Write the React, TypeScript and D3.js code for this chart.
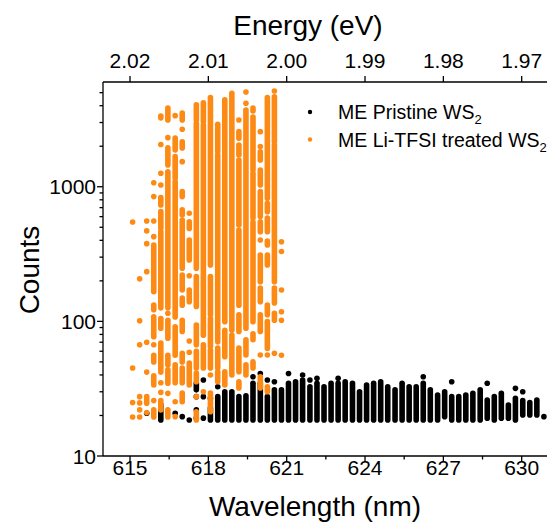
import React from 'react';
import * as d3 from 'd3';

// ---------- data ----------
const wavelengthTicks = [615, 618, 621, 624, 627, 630];
const wavelengthMinorTicks = [616.5, 619.5, 622.5, 625.5, 628.5];
const energyTickLabels = ['2.02', '2.01', '2.00', '1.99', '1.98', '1.97'];
const countTicks = [10, 100, 1000];
const countMinorTicks = [20, 30, 40, 50, 60, 70, 80, 90, 200, 300, 400, 500, 600, 700, 800, 900, 2000, 3000, 4000, 5000];

type Run = [number, number];
type Column = { wl: number; runs: Run[] };

// ME Li-TFSI treated WS2 (orange): per detector column, runs of stacked counts [low, high]
const treatedColumns: Column[] = [
  { wl: 615.10, runs: [[547, 547], [45, 45], [25, 25], [19.5, 19.5]] },
  { wl: 615.37, runs: [[207, 207], [101, 101], [67, 67], [27.6, 27.6], [24.8, 24.8], [22, 22], [19.5, 19.5]] },
  { wl: 615.64, runs: [[557, 557], [470, 470], [378, 378], [234, 234], [70, 70], [42, 42], [24.7, 27.6], [21, 21]] },
  { wl: 615.91, runs: [[1072, 1072], [845, 845], [557, 557], [426, 426], [166, 369], [122, 132], [77, 108], [67, 67], [50, 56], [33.7, 39.5], [25.8, 25.8], [19.5, 22]] },
  { wl: 616.18, runs: [[3250, 3350], [2060, 2060], [1260, 1260], [1031, 1031], [732, 830], [494, 653], [126, 464], [89, 105], [42, 69], [35, 35], [29.7, 29.7], [22, 25.8]] },
  { wl: 616.45, runs: [[3135, 3850], [2316, 2316], [1452, 1943], [126, 1290], [115, 115], [75, 102], [47.5, 56], [34.7, 43.6], [29.2, 29.2], [19.5, 22]] },
  { wl: 616.73, runs: [[3375, 3375], [1877, 2300], [1162, 1673], [108, 1091], [56, 91], [35, 47.5], [25.3, 25.3], [19.6, 19.6]] },
  { wl: 617.00, runs: [[3135, 3535], [2675, 2675], [1943, 2162], [1537, 1537], [845, 920], [617, 673], [248, 567], [171, 221], [132, 149], [84, 102], [50, 58], [35, 45], [25.3, 29.4]] },
  { wl: 617.27, runs: [[636, 636], [490, 550], [286, 402], [218, 218], [140, 171], [71.5, 71.5], [59, 59], [33.7, 49]] },
  { wl: 617.54, runs: [[3135, 4055], [248, 2950], [129, 215], [67, 94], [45, 60], [35.6, 41.4], [27.6, 27.6], [18.5, 21.3]] },
  { wl: 617.81, runs: [[3040, 4200], [79, 2878], [45, 67], [30, 30]] },
  { wl: 618.08, runs: [[262, 4595], [112, 215], [65, 105], [45, 61], [40, 40], [21.3, 29.4]] },
  { wl: 618.36, runs: [[1822, 2912], [70.6, 1722], [45, 63.4], [35.6, 42.3]] },
  { wl: 618.63, runs: [[3030, 4417], [99.5, 2912], [54.7, 86], [33.7, 42.3]] },
  { wl: 618.90, runs: [[86, 4955], [40, 79]] },
  { wl: 619.17, runs: [[3135, 3135], [2293, 2567], [1722, 2045], [1333, 1582], [520, 1288], [132, 477], [84, 112], [42.3, 63.4], [32, 35.6]] },
  { wl: 619.44, runs: [[5060, 5060], [4170, 4170], [89, 3720], [56.3, 73], [40, 47.5]] },
  { wl: 619.71, runs: [[3650, 3850], [1333, 3300], [587, 1260], [99.5, 547], [73, 81], [45, 50]] },
  { wl: 619.99, runs: [[2567, 2567], [1987, 1987], [1582, 1822], [1031, 1333], [600, 920], [464, 550], [402, 402], [197, 311], [140, 177], [84, 112], [56.3, 56.3], [32, 38.8]] },
  { wl: 620.26, runs: [[822, 4600], [653, 754], [464, 585], [369, 395], [262, 311], [112, 132], [63, 99.5], [56.3, 56.3], [30, 32.7]] },
  { wl: 620.53, runs: [[5150, 5150], [2162, 4650], [197, 2045], [137, 177], [102, 115], [58, 58]] },
  { wl: 620.80, runs: [[390, 390], [330, 330], [171, 171], [118, 118], [102, 102], [56, 56]] },
];

// ME Pristine WS2 (black)
const pristineColumns: Column[] = [
  { wl: 615.64, runs: [[20.8, 20.8]] },
  { wl: 616.18, runs: [[18.5, 24]] },
  { wl: 616.73, runs: [[20.8, 20.8]] },
  { wl: 617.00, runs: [[19.6, 19.6]] },
  { wl: 617.27, runs: [[18.5, 18.5]] },
  { wl: 617.54, runs: [[31, 34.7], [27.6, 27.6], [22, 22], [19.1, 19.1]] },
  { wl: 617.81, runs: [[36.7, 36.7], [27.6, 27.6], [19.1, 19.1]] },
  { wl: 618.08, runs: [[26.8, 26.8], [18.5, 22.7]] },
  { wl: 618.36, runs: [[32.7, 32.7], [18.5, 27.6]] },
  { wl: 618.63, runs: [[18.5, 30]] },
  { wl: 618.90, runs: [[18.5, 30]] },
  { wl: 619.17, runs: [[18.5, 27.6]] },
  { wl: 619.44, runs: [[18.5, 28]] },
  { wl: 619.71, runs: [[38.8, 38.8], [18.5, 34.7]] },
  { wl: 619.99, runs: [[41, 41], [18.5, 34.7]] },
  { wl: 620.26, runs: [[36.7, 36.7], [18.5, 27.6]] },
  { wl: 620.53, runs: [[35.6, 35.6], [18.5, 31]] },
  { wl: 620.80, runs: [[18.5, 31]] },
  { wl: 621.07, runs: [[41, 41], [18.5, 34.7]] },
  { wl: 621.34, runs: [[18.5, 35.6]] },
  { wl: 621.61, runs: [[40, 40], [18.5, 36.7]] },
  { wl: 621.89, runs: [[36.7, 36.7], [18.5, 32.7]] },
  { wl: 622.16, runs: [[37.8, 37.8], [18.5, 34.7]] },
  { wl: 622.43, runs: [[18.5, 32.7]] },
  { wl: 622.70, runs: [[18.5, 34.7]] },
  { wl: 622.97, runs: [[37.8, 37.8], [18.5, 34.7]] },
  { wl: 623.24, runs: [[18.5, 35.6]] },
  { wl: 623.52, runs: [[18.5, 34.7]] },
  { wl: 623.79, runs: [[18.5, 30]] },
  { wl: 624.06, runs: [[18.5, 33.7]] },
  { wl: 624.33, runs: [[18.5, 34.7]] },
  { wl: 624.60, runs: [[18.5, 35.6]] },
  { wl: 624.87, runs: [[18.5, 32.7]] },
  { wl: 625.15, runs: [[18.5, 31]] },
  { wl: 625.42, runs: [[18.5, 34.7]] },
  { wl: 625.69, runs: [[18.5, 32.7]] },
  { wl: 625.96, runs: [[18.5, 32.7]] },
  { wl: 626.23, runs: [[38.8, 38.8], [18.5, 34.7]] },
  { wl: 626.50, runs: [[18.5, 31]] },
  { wl: 626.78, runs: [[18.5, 28.4]] },
  { wl: 627.05, runs: [[19.6, 30]] },
  { wl: 627.32, runs: [[35.6, 35.6], [18.5, 27.6]] },
  { wl: 627.59, runs: [[18.5, 27.6]] },
  { wl: 627.86, runs: [[18.5, 28.4]] },
  { wl: 628.13, runs: [[18.5, 29.2]] },
  { wl: 628.41, runs: [[18.5, 31]] },
  { wl: 628.68, runs: [[34.7, 34.7], [19.1, 26]] },
  { wl: 628.95, runs: [[18.5, 27.6]] },
  { wl: 629.22, runs: [[19.1, 29.2]] },
  { wl: 629.49, runs: [[19.1, 23.9]] },
  { wl: 629.76, runs: [[31.8, 31.8], [18.5, 26.8]] },
  { wl: 630.04, runs: [[30, 30], [20.2, 25.8]] },
  { wl: 630.31, runs: [[20.2, 25]] },
  { wl: 630.58, runs: [[20.2, 26]] },
  { wl: 630.85, runs: [[19.6, 19.6]] },
];

const seriesNames = ['ME Pristine WS', 'ME Li-TFSI treated WS'];
const seriesColors = ['#000000', '#fd8a14'];

// ---------- layout ----------
const W = 547;
const H = 526;
const left = 103;
const right = 547;
const top = 82;
const bottom = 456;
const FONT = '"Liberation Sans", Arial, Helvetica, sans-serif';
const R = 2.8;

const x = d3.scaleLinear().domain([613.966, 630.969]).range([left, right]);
const y = d3.scaleLog().domain([10, 6000]).range([bottom, top]);

function Series({ cols, color }: { cols: Column[]; color: string }) {
  return (
    <g>
      {cols.map((c, i) =>
        c.runs.map((r, j) => {
          const cx = x(c.wl);
          if (r[0] === r[1]) {
            return <circle key={`${i}-${j}`} cx={cx} cy={y(r[0])} r={R} fill={color} />;
          }
          return (
            <line
              key={`${i}-${j}`}
              x1={cx}
              x2={cx}
              y1={y(r[1])}
              y2={y(r[0])}
              stroke={color}
              strokeWidth={2 * R}
              strokeLinecap="round"
            />
          );
        })
      )}
    </g>
  );
}

export default function App() {
  return (
    <svg
      width={W}
      height={H}
      viewBox={`0 0 ${W} ${H}`}
      style={{ position: 'absolute', left: 0, top: 0, background: '#fff' }}
      fontFamily={FONT}
    >
      <rect x={0} y={0} width={W} height={H} fill="#fff" />

      <Series cols={pristineColumns} color={seriesColors[0]} />
      <Series cols={treatedColumns} color={seriesColors[1]} />

      {/* axes lines */}
      <g stroke="#000" strokeWidth={1.3} fill="none">
        <line x1={left} x2={right} y1={bottom} y2={bottom} />
        <line x1={left} x2={right} y1={top} y2={top} />
        <line x1={left} x2={left} y1={top} y2={bottom} />
      </g>

      {/* bottom axis */}
      <g>
        {wavelengthTicks.map((t) => (
          <g key={t}>
            <line x1={x(t)} x2={x(t)} y1={bottom} y2={bottom + 6} stroke="#000" strokeWidth={1.3} />
            <text x={x(t)} y={475} textAnchor="middle" fontSize={21} fill="#000">
              {t}
            </text>
          </g>
        ))}
        {wavelengthMinorTicks.map((t) => (
          <line key={t} x1={x(t)} x2={x(t)} y1={bottom} y2={bottom + 3.5} stroke="#000" strokeWidth={1.3} />
        ))}
        <text x={315} y={516} textAnchor="middle" fontSize={28} fill="#000">
          Wavelength (nm)
        </text>
      </g>

      {/* top axis (energy) */}
      <g>
        {wavelengthTicks.map((t, i) => (
          <g key={t}>
            <line x1={x(t)} x2={x(t)} y1={top} y2={top - 6} stroke="#000" strokeWidth={1.3} />
            <text x={x(t)} y={68} textAnchor="middle" fontSize={21} fill="#000">
              {energyTickLabels[i]}
            </text>
          </g>
        ))}
        <text x={308} y={35} textAnchor="middle" fontSize={28} fill="#000">
          Energy (eV)
        </text>
      </g>

      {/* left axis */}
      <g>
        {countTicks.map((t) => (
          <g key={t}>
            <line x1={left - 6} x2={left} y1={y(t)} y2={y(t)} stroke="#000" strokeWidth={1.3} />
            <text x={left - 7} y={y(t) + 7.5} textAnchor="end" fontSize={21} fill="#000">
              {t}
            </text>
          </g>
        ))}
        {countMinorTicks.map((t) => (
          <line key={t} x1={left - 3.5} x2={left} y1={y(t)} y2={y(t)} stroke="#000" strokeWidth={1.3} />
        ))}
        <text
          transform={`translate(39, 270) rotate(-90)`}
          textAnchor="middle"
          fontSize={28}
          fill="#000"
        >
          Counts
        </text>
      </g>

      {/* legend */}
      <g>
        {seriesNames.map((name, i) => (
          <g key={name}>
            <circle cx={310} cy={112 + i * 27.5} r={2.2} fill={seriesColors[i]} />
            <text x={338} y={119 + i * 27.5} fontSize={19.5} fill="#000">
              {name}
              <tspan dy={5} fontSize={13}>
                2
              </tspan>
            </text>
          </g>
        ))}
      </g>
    </svg>
  );
}
